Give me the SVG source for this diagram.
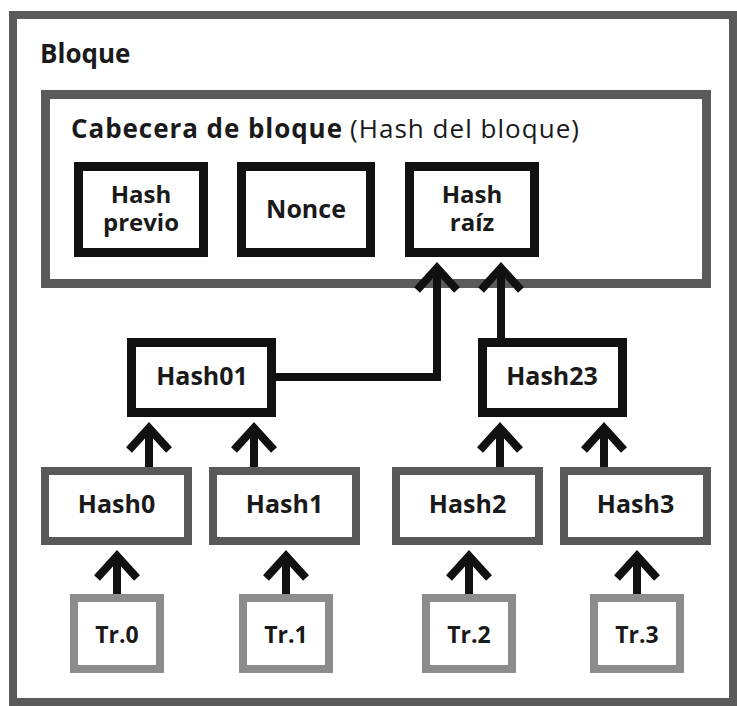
<svg xmlns="http://www.w3.org/2000/svg" width="737" height="706" viewBox="0 0 737 706">
<defs>
<style>
text{font-family:"Open Sans",Lato,"Liberation Sans",sans-serif;fill:#1a1a1a;font-weight:700}
.t{font-size:25px;text-anchor:middle}
.t2{font-size:24px;text-anchor:middle}
.blk{fill:#fff;stroke:#111;stroke-width:9}
.leaf{fill:#fff;stroke:#595959;stroke-width:8}
.tr{fill:#fff;stroke:#8c8c8c;stroke-width:8}
.con{fill:none;stroke:#111;stroke-width:8;marker-end:url(#chev)}
</style>
<marker id="chev" markerUnits="userSpaceOnUse" orient="auto" refX="0" refY="0" markerWidth="60" markerHeight="60" overflow="visible">
<path d="M-22,-20 L0,0 L-22,20" fill="none" stroke="#111" stroke-width="8" stroke-linejoin="miter"/>
</marker>
</defs>
<rect width="737" height="706" fill="#fff"/>
<g id="bloque">
<rect x="13" y="15" width="720" height="687" fill="#fff" stroke="#5a5a5a" stroke-width="8"/>
<text x="40" y="63" style="font-size:26px">Bloque</text>
</g>
<g id="cabecera">
<rect x="45.5" y="94.5" width="661" height="189" fill="#fff" stroke="#5a5a5a" stroke-width="9"/>
<text x="71" y="138" style="font-size:26px" textLength="271">Cabecera de bloque</text>
<text x="350" y="138" style="font-size:26px;font-weight:400" textLength="229">(Hash del bloque)</text>
</g>
<g id="hash-previo">
<rect class="blk" x="78.5" y="166.5" width="125" height="86"/>
<text class="t2"><tspan x="141" y="203">Hash</tspan><tspan x="141" y="231">previo</tspan></text>
</g>
<g id="nonce">
<rect class="blk" x="241.5" y="166.5" width="129" height="86"/>
<text class="t" x="306" y="218">Nonce</text>
</g>
<g id="hash-raiz">
<rect class="blk" x="409.5" y="166.5" width="125" height="86"/>
<text class="t2"><tspan x="472" y="203">Hash</tspan><tspan x="472" y="231">raíz</tspan></text>
</g>
<g id="hash01">
<rect class="blk" x="131.5" y="342.5" width="140" height="70"/>
<text class="t" x="202" y="385">Hash01</text>
</g>
<g id="hash23">
<rect class="blk" x="482.5" y="342.5" width="140" height="70"/>
<text class="t" x="552" y="385">Hash23</text>
</g>
<g id="hash0">
<rect class="leaf" x="45" y="471" width="143" height="70"/>
<text class="t" x="116.5" y="513">Hash0</text>
</g>
<g id="hash1">
<rect class="leaf" x="213" y="471" width="143" height="70"/>
<text class="t" x="284.5" y="513">Hash1</text>
</g>
<g id="hash2">
<rect class="leaf" x="396" y="471" width="143" height="70"/>
<text class="t" x="467.5" y="513">Hash2</text>
</g>
<g id="hash3">
<rect class="leaf" x="564" y="471" width="143" height="70"/>
<text class="t" x="635.5" y="513">Hash3</text>
</g>
<g id="tr0">
<rect class="tr" x="74" y="598" width="86" height="71"/>
<text class="t" x="117" y="643" style="font-size:23px">Tr.0</text>
</g>
<g id="tr1">
<rect class="tr" x="243" y="598" width="86" height="71"/>
<text class="t" x="286" y="643" style="font-size:23px">Tr.1</text>
</g>
<g id="tr2">
<rect class="tr" x="426" y="598" width="86" height="71"/>
<text class="t" x="469" y="643" style="font-size:23px">Tr.2</text>
</g>
<g id="tr3">
<rect class="tr" x="594" y="598" width="86" height="71"/>
<text class="t" x="637" y="643" style="font-size:23px">Tr.3</text>
</g>
<g id="connectors">
<path class="con" d="M117,594 V556"/>
<path class="con" d="M286,594 V556"/>
<path class="con" d="M469,594 V556"/>
<path class="con" d="M637,594 V556"/>
<path class="con" d="M149,467 V428"/>
<path class="con" d="M254,467 V428"/>
<path class="con" d="M500,467 V428"/>
<path class="con" d="M604,467 V428"/>
<path class="con" d="M276,377 H437 V268" stroke-linejoin="miter"/>
<path class="con" d="M501,338 V268"/>
</g>
</svg>
